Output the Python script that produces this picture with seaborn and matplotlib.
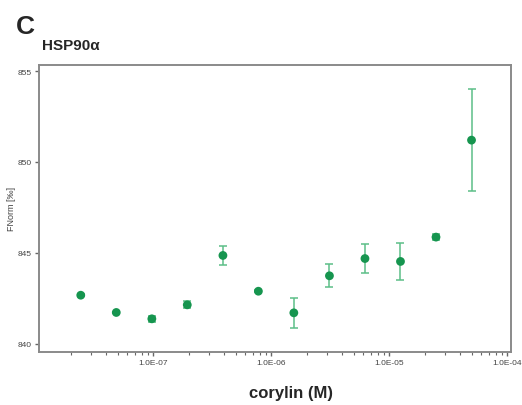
import numpy as np
import pandas as pd
import matplotlib
matplotlib.use("Agg")
import matplotlib.pyplot as plt
import matplotlib.ticker as mticker
import seaborn as sns

concentration = [2.44e-8, 4.88e-8, 9.77e-8, 1.95e-7, 3.91e-7, 7.81e-7,
                 1.56e-6, 3.125e-6, 6.25e-6, 1.25e-5, 2.5e-5, 5.0e-5]
fnorm = [842.66, 841.71, 841.36, 842.13, 844.85, 842.88,
         841.69, 843.73, 844.68, 844.52, 845.86, 851.2]
fnorm_err = [0.05, 0.05, 0.15, 0.2, 0.5, 0.05,
             0.83, 0.64, 0.79, 1.03, 0.15, 2.8]
y_ticks = [840, 845, 850, 855]
x_ticks = [1e-7, 1e-6, 1e-5, 1e-4]

df = pd.DataFrame({"conc": concentration, "fnorm": fnorm, "err": fnorm_err})

sns.set_style("white")
plt.rcParams['font.family'] = ['Liberation Sans', 'DejaVu Sans']

fig = plt.figure(figsize=(5.22, 4.06), dpi=100)
ax = fig.add_axes([0.0747, 0.1313, 0.9033, 0.7067])

ax.errorbar(df["conc"], df["fnorm"], yerr=df["err"], fmt="none",
            ecolor="#5cbf88", elinewidth=1.1, capsize=3, capthick=1.1, zorder=2)
sns.scatterplot(data=df, x="conc", y="fnorm", ax=ax, color="#16954f",
                s=40, edgecolor="none", zorder=3)

ax.set_xscale("log")
ax.set_xlim(1.08e-8, 1.07e-4)
ax.set_ylim(839.55, 855.35)
ax.set_xticks(x_ticks)
ax.xaxis.set_major_formatter(mticker.FuncFormatter(
    lambda v, p: "1.0E-%02d" % round(-np.log10(v))))
ax.xaxis.set_minor_locator(mticker.LogLocator(base=10, subs=np.arange(2, 10)))
ax.xaxis.set_minor_formatter(mticker.NullFormatter())
ax.set_yticks(y_ticks)

for s in ax.spines.values():
    s.set_color("#8a8a8a")
    s.set_linewidth(1.4)
    s.set_visible(True)

ax.tick_params(axis="both", which="major", direction="out", length=3, width=1,
               color="#666666", labelsize=6, labelcolor="#444444", pad=2,
               bottom=True, left=True)
ax.tick_params(axis="x", which="minor", direction="out", length=2, width=0.8,
               color="#666666", bottom=True)

ax.set_xlabel("corylin (M)", fontsize=12, fontweight="bold")
ax.xaxis.set_label_coords(0.535, -0.115)
ax.set_ylabel("FNorm [‰]", fontsize=6.5, color="#444444")
ax.yaxis.set_label_coords(-0.049, 0.5)

fig.text(0.03, 0.962, "C", fontsize=19, fontweight="bold", va="top", ha="left")
fig.text(0.08, 0.905, "HSP90α", fontsize=11, fontweight="bold", va="top", ha="left")

fig.savefig("out.png", dpi=100)
